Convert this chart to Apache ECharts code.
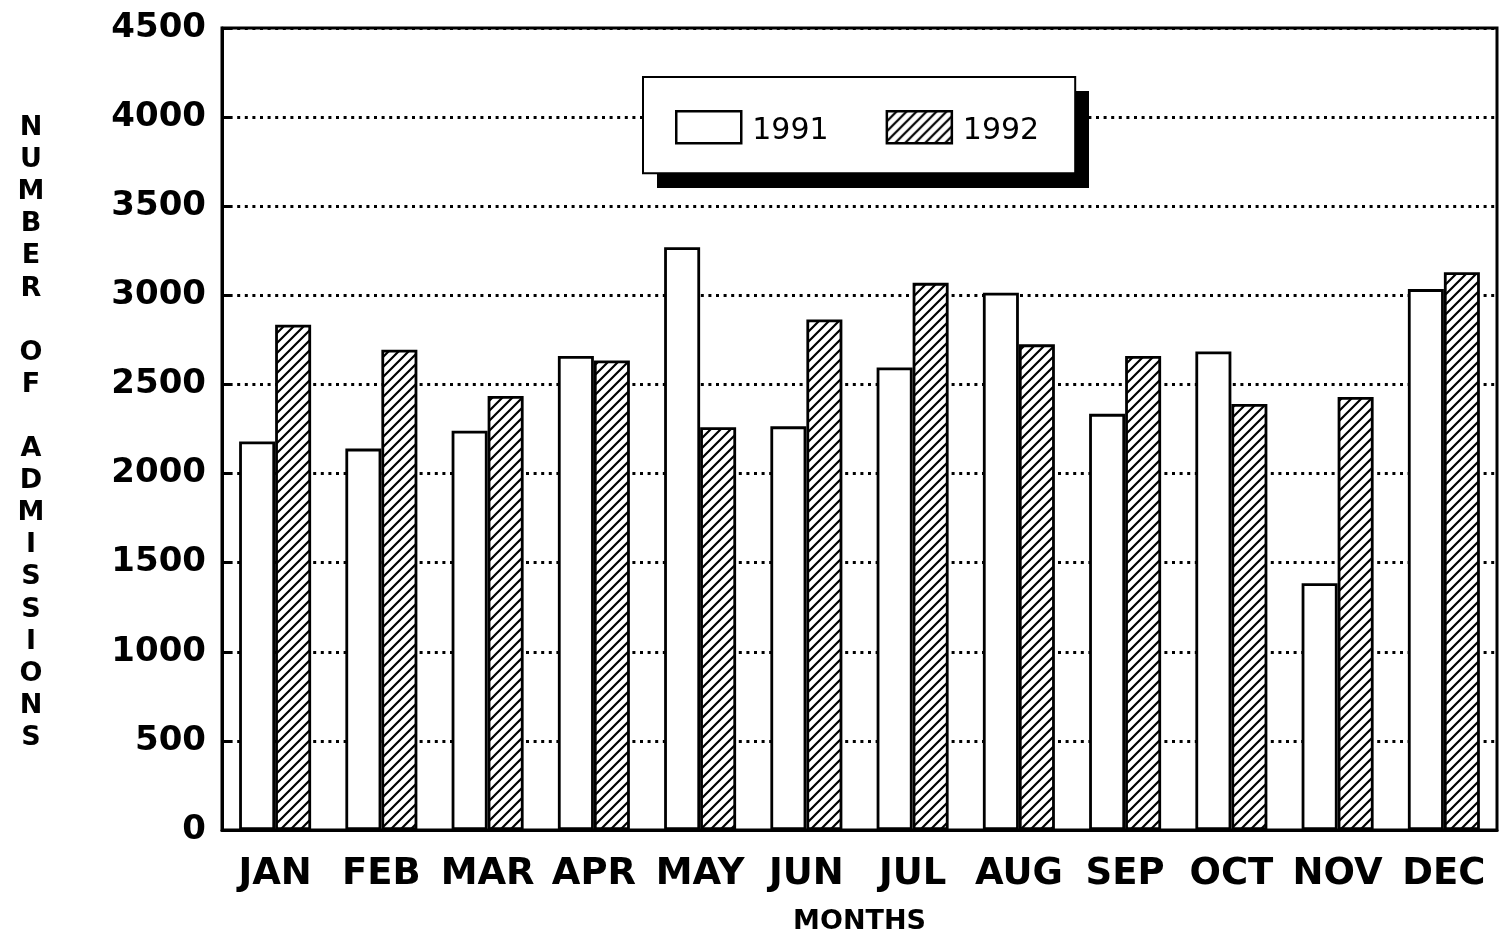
<!DOCTYPE html>
<html>
<head>
<meta charset="utf-8">
<script src="https://cdn.jsdelivr.net/npm/echarts@6/dist/echarts.min.js"></script>
<style>
html,body{margin:0;padding:0;background:#fff;}
#chart{width:1509px;height:941px;}
</style>
</head>
<body>
<div id="chart"></div>
<script>
const months = ['JAN','FEB','MAR','APR','MAY','JUN','JUL','AUG','SEP','OCT','NOV','DEC'];
const admissions1991 = [2180, 2140, 2240, 2660, 3270, 2265, 2595, 3015, 2335, 2685, 1385, 3035];
const admissions1992 = [2835, 2695, 2435, 2635, 2260, 2865, 3070, 2725, 2660, 2390, 2430, 3130];
const yTicks = [0, 500, 1000, 1500, 2000, 2500, 3000, 3500, 4000, 4500];
const yTitle = 'NUMBER OF ADMISSIONS';
const xTitle = 'MONTHS';

function hatch() {
  const s = 10;
  const c = document.createElement('canvas');
  c.width = s; c.height = s;
  const g = c.getContext('2d');
  g.fillStyle = '#fff';
  g.fillRect(0, 0, s, s);
  g.strokeStyle = '#000';
  g.lineWidth = 2.2;
  g.beginPath();
  g.moveTo(-2, s + 2); g.lineTo(s + 2, -2);
  g.moveTo(-2, 2); g.lineTo(2, -2);
  g.moveTo(s - 2, s + 2); g.lineTo(s + 2, s - 2);
  g.stroke();
  return c;
}

const chart = echarts.init(document.getElementById('chart'));
const font = 'DejaVu Sans';
chart.setOption({
  backgroundColor: '#fff',
  animation: false,
  grid: { left: 222, right: 12, top: 28, bottom: 111, show: true, borderColor: '#000', borderWidth: 3, backgroundColor: 'transparent' },
  legend: {
    left: 643, top: 77, z: 10,
    padding: [33, 36, 27, 32],
    icon: 'rect',
    itemWidth: 65, itemHeight: 32, itemGap: 57,
    backgroundColor: '#fff', borderColor: '#000', borderWidth: 2,
    formatter: '{t|{name}}',
    textStyle: { fontFamily: font, fontSize: 30, color: '#000',
      rich: { t: { fontFamily: font, fontSize: 30, color: '#000', padding: [8, 0, 0, 6] } } },
    itemStyle: { borderColor: '#000', borderWidth: 2.5 },
    data: ['1991', '1992']
  },
  xAxis: {
    type: 'category', data: months,
    name: xTitle, nameLocation: 'middle', nameGap: 78,
    nameTextStyle: { fontFamily: font, fontWeight: 'bold', fontSize: 27, color: '#000' },
    axisLine: { lineStyle: { color: '#000', width: 3 } },
    axisTick: { show: false },
    axisLabel: { fontFamily: font, fontWeight: 'bold', fontSize: 37, color: '#000', margin: 26, interval: 0 }
  },
  yAxis: {
    type: 'value', min: yTicks[0], max: yTicks[yTicks.length - 1], interval: 500,
    axisLine: { show: true, lineStyle: { color: '#000', width: 3 } },
    axisTick: { show: true, inside: true, length: 9, lineStyle: { color: '#000', width: 3 } },
    axisLabel: { fontFamily: font, fontWeight: 'bold', fontSize: 34, color: '#000', margin: 16,
      formatter: v => String(v) },
    splitLine: { show: true, lineStyle: { color: '#000', width: 3, type: [3, 4.6] } }
  },
  graphic: [
    { type: 'rect', z: 5, shape: { x: 657, y: 91, width: 432, height: 97 }, style: { fill: '#000' } },
    { type: 'text', z: 5, x: 31, y: 112,
      style: { text: yTitle.split('').join('\n'), fontFamily: font, fontWeight: 'bold', fontSize: 27, lineHeight: 32.1, fill: '#000', align: 'center', verticalAlign: 'top' } }
  ],
  series: [
    { name: '1991', type: 'bar', data: admissions1991, barWidth: 36, barGap: '0%',
      itemStyle: { color: '#fff', borderColor: '#000', borderWidth: 2.8 } },
    { name: '1992', type: 'bar', data: admissions1992, barWidth: 36, barGap: '0%',
      itemStyle: { color: { image: hatch(), repeat: 'repeat' }, borderColor: '#000', borderWidth: 2.8 } }
  ]
});
</script>
</body>
</html>
